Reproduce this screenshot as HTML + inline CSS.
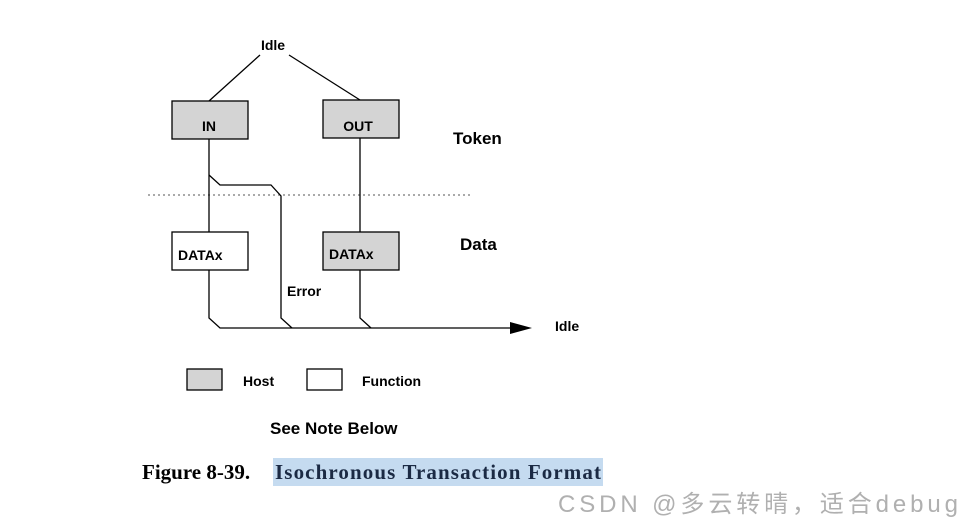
<!DOCTYPE html>
<html><head><meta charset="utf-8"><style>
body{margin:0;background:#fff;}
svg{display:block}
</style></head><body>
<svg width="973" height="529" xmlns="http://www.w3.org/2000/svg">
<g font-family="Liberation Sans, sans-serif" font-weight="bold" fill="#000">
<line x1="260" y1="55" x2="209" y2="101" stroke="#000" stroke-width="1.3"/>
<line x1="289" y1="55" x2="360" y2="100" stroke="#000" stroke-width="1.3"/>
<text x="273" y="50" font-size="14" text-anchor="middle">Idle</text>
<rect x="172" y="101" width="76" height="38" fill="#d4d4d4" stroke="#000" stroke-width="1.3"/>
<text x="209" y="131" font-size="14" text-anchor="middle">IN</text>
<rect x="323" y="100" width="76" height="38" fill="#d4d4d4" stroke="#000" stroke-width="1.3"/>
<text x="358" y="131" font-size="14" text-anchor="middle">OUT</text>
<text x="453" y="144" font-size="17">Token</text>
<text x="460" y="250" font-size="17">Data</text>
<line x1="148" y1="195" x2="472" y2="195" stroke="#777" stroke-width="1.3" stroke-dasharray="2,3"/>
<polyline points="209,139 209,232" fill="none" stroke="#000" stroke-width="1.3"/>
<polyline points="209,175 220,185 271,185 281,196 281,318 292,328" fill="none" stroke="#000" stroke-width="1.3"/>
<polyline points="360,138 360,232" fill="none" stroke="#000" stroke-width="1.3"/>
<rect x="172" y="232" width="76" height="38" fill="#fff" stroke="#000" stroke-width="1.3"/>
<text x="178" y="260" font-size="14">DATAx</text>
<rect x="323" y="232" width="76" height="38" fill="#d4d4d4" stroke="#000" stroke-width="1.3"/>
<text x="329" y="259" font-size="14">DATAx</text>
<polyline points="209,270 209,318 220,328 512,328" fill="none" stroke="#000" stroke-width="1.3"/>
<polyline points="360,270 360,318 371,328" fill="none" stroke="#000" stroke-width="1.3"/>
<polygon points="510,322 532,328 510,334" fill="#000"/>
<text x="287" y="296" font-size="14">Error</text>
<text x="555" y="331" font-size="14">Idle</text>
<rect x="187" y="369" width="35" height="21" fill="#d4d4d4" stroke="#000" stroke-width="1.3"/>
<text x="243" y="386" font-size="14">Host</text>
<rect x="307" y="369" width="35" height="21" fill="#fff" stroke="#000" stroke-width="1.3"/>
<text x="362" y="386" font-size="14">Function</text>
<text x="270" y="434" font-size="17">See Note Below</text>
</g>
<rect x="273" y="458" width="330" height="28" fill="#c5dbf0"/>
<text x="142" y="479" font-family="Liberation Serif, serif" font-weight="bold" font-size="21" fill="#000">Figure 8-39.</text>
<text x="275" y="479" font-family="Liberation Serif, serif" font-weight="bold" font-size="21" fill="#1b2a44" textLength="326">Isochronous Transaction Format</text>
<text x="558" y="512" font-family="Liberation Sans, 'Noto Sans CJK SC', sans-serif" font-size="24" fill="#b0b0b0" textLength="400">CSDN @多云转晴，适合debug</text>
</svg>
</body></html>
